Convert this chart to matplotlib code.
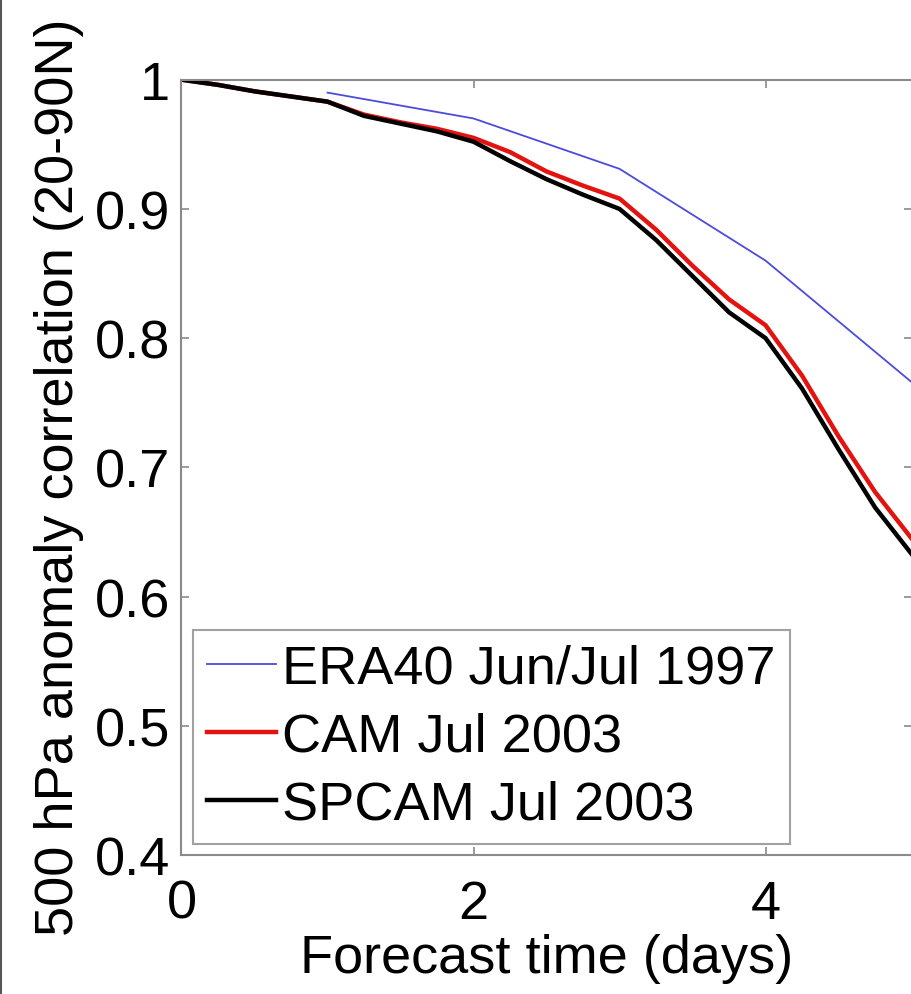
import numpy as np
import matplotlib.pyplot as plt
from matplotlib.lines import Line2D

# -----------------------------
# Data
# -----------------------------
days = [0, 0.25, 0.5, 0.75, 1, 1.25, 1.5, 1.75, 2, 2.25, 2.5,
        2.75, 3, 3.25, 3.5, 3.75, 4, 4.25, 4.5, 4.75, 5]

spcam = [1.000, 0.996, 0.991, 0.987, 0.983, 0.972, 0.966, 0.960, 0.952, 0.937, 0.923,
         0.911, 0.900, 0.876, 0.848, 0.820, 0.800, 0.761, 0.714, 0.669, 0.633]
cam = [1.000, 0.996, 0.991, 0.987, 0.983, 0.973, 0.967, 0.962, 0.955, 0.944, 0.929,
       0.918, 0.908, 0.884, 0.856, 0.830, 0.810, 0.771, 0.724, 0.681, 0.645]

era_days = [1, 2, 3, 4, 5]
era40 = [0.990, 0.970, 0.931, 0.860, 0.766]

labels = ["ERA40 Jun/Jul 1997", "CAM Jul 2003", "SPCAM Jul 2003"]

# -----------------------------
# Style
# -----------------------------
plt.rcParams['font.family'] = ['Liberation Sans', 'DejaVu Sans']
fs = 39
grey = "#8a8a8a"

fig = plt.figure(figsize=(9.12, 9.95), dpi=100)
ax = fig.add_axes([0.199, 0.1397, 0.8005, 0.7792])

# -----------------------------
# Plot
# -----------------------------
ax.plot(era_days, era40, color="#4b4bdc", lw=1.3, label=labels[0])
ax.plot(days, cam, color="#e3140f", lw=3.2, label=labels[1])
ax.plot(days, spcam, color="black", lw=3.2, label=labels[2])

ax.set_xlim(0, 5)
ax.set_ylim(0.4, 1.0)
ax.set_xticks([0, 2, 4])
ax.set_yticks([0.4, 0.5, 0.6, 0.7, 0.8, 0.9, 1.0])
ax.set_yticklabels(["0.4", "0.5", "0.6", "0.7", "0.8", "0.9", "1"])

ax.tick_params(direction="in", length=6, width=1.2, color=grey,
               top=True, right=True, labelsize=fs)
ax.tick_params(axis="x", pad=17)
ax.tick_params(axis="y", pad=8)

for sp in ax.spines.values():
    sp.set_color(grey)
    sp.set_linewidth(1.5)

ax.set_xlabel("Forecast time (days)", fontsize=fs, labelpad=3)
ax.set_ylabel("500 hPa anomaly correlation (20-90N)", fontsize=fs)
ax.yaxis.set_label_coords(-0.133, 0.488)

leg = ax.legend(loc="lower left", fontsize=fs, frameon=True, fancybox=False,
                handlelength=1.27, handletextpad=0.12, borderaxespad=0.21,
                borderpad=0.26, labelspacing=0.33)
leg.get_frame().set_edgecolor(grey)
leg.get_frame().set_linewidth(1.5)

# thin frame line along the left edge of the figure
fig.add_artist(Line2D([0.001, 0.001], [0, 1], transform=fig.transFigure,
                      color="#555555", lw=1.5))

# -----------------------------
# Save
# -----------------------------
fig.savefig("out.png", dpi=100)
